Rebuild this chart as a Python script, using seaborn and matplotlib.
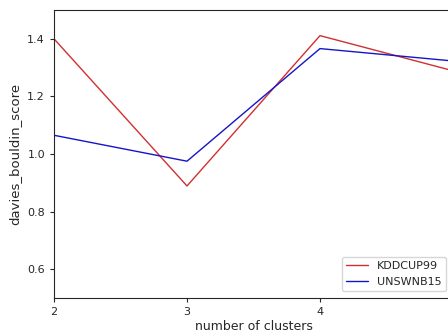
import matplotlib
matplotlib.use("Agg")
import matplotlib.pyplot as plt
import seaborn as sns
import pandas as pd

clusters = [2, 3, 4, 5]
kddcup99 = [1.400, 0.889, 1.411, 1.289]
unswnb15 = [1.065, 0.975, 1.366, 1.323]
series_names = ["KDDCUP99", "UNSWNB15"]
colors = ["#d03030", "#1515c8"]
xtick_labels = ["2", "3", "4"]

df = pd.DataFrame({
    "clusters": clusters * 2,
    "score": kddcup99 + unswnb15,
    "dataset": [series_names[0]] * len(clusters) + [series_names[1]] * len(clusters),
})

sns.set_style("ticks")
plt.rcParams['font.family'] = ['DejaVu Sans']

fig = plt.figure(figsize=(4.48, 3.34), dpi=100)
W, H = 448, 334
left, right, top, bottom = 54, 453, 10, 298
ax = fig.add_axes([left / W, 1 - bottom / H, (right - left) / W, (bottom - top) / H])

sns.lineplot(data=df, x="clusters", y="score", hue="dataset",
             palette=dict(zip(series_names, colors)), linewidth=1.0, ax=ax)

ax.set_xlim(2, 5)
ax.set_ylim(0.5, 1.5)
ax.set_xticks([int(t) for t in xtick_labels])
ax.set_xticklabels(xtick_labels)
ax.set_yticks([0.6, 0.8, 1.0, 1.2, 1.4])
ax.tick_params(labelsize=8, length=3, width=0.8)
ax.set_xlabel("number of clusters", fontsize=9, labelpad=2)
ax.set_ylabel("davies_bouldin_score", fontsize=9.5)
for s in ax.spines.values():
    s.set_linewidth(0.8)
    s.set_visible(True)
leg = ax.legend(loc="lower right", fontsize=8, frameon=True, borderaxespad=0.6)
leg.set_title(None)

fig.savefig("out.png", dpi=100)
